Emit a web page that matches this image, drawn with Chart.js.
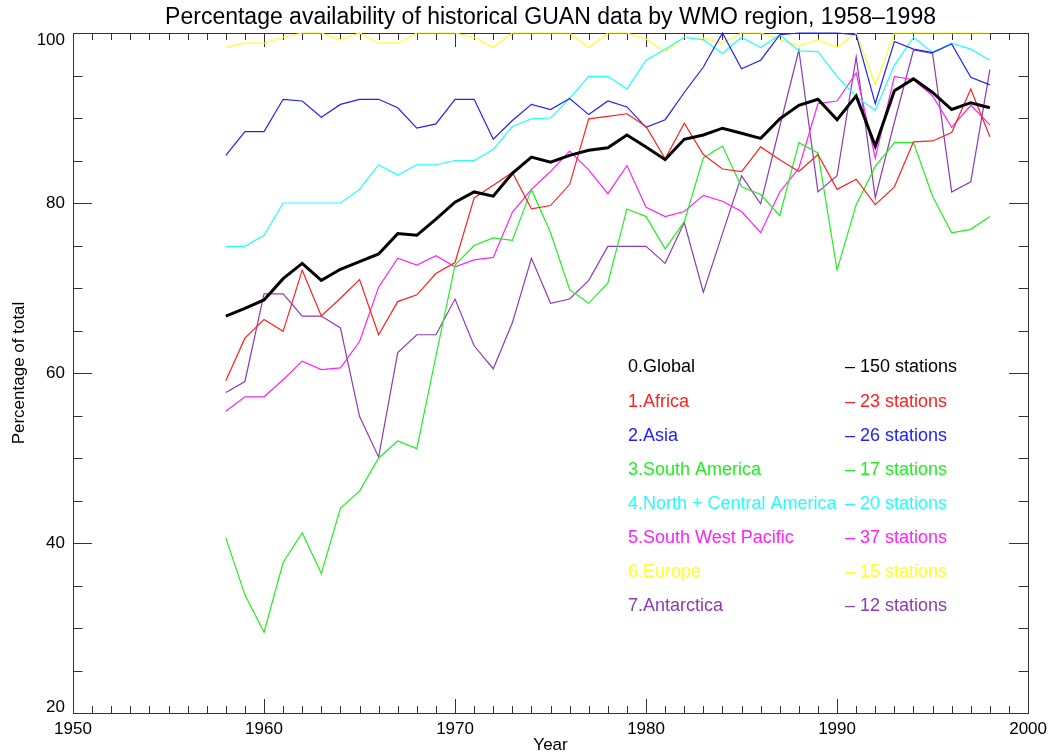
<!DOCTYPE html>
<html>
<head>
<meta charset="utf-8">
<script src="https://cdn.jsdelivr.net/npm/chart.js@4"></script>
<style>
  body { margin: 0; background: #fff; }
  #wrap { width: 1053px; height: 755px; }
</style>
</head>
<body>
<div id="wrap"><canvas id="myChart" width="1053" height="755"></canvas></div>
<script>
// data, 1958-1998
var years = [1958,1959,1960,1961,1962,1963,1964,1965,1966,1967,1968,1969,1970,
  1971,1972,1973,1974,1975,1976,1977,1978,1979,1980,1981,1982,1983,1984,1985,
  1986,1987,1988,1989,1990,1991,1992,1993,1994,1995,1996,1997,1998];

var globalPct = [66.7,67.6,68.6,71.1,72.9,70.9,72.2,73.1,74.0,76.4,76.2,78.1,80.1,
  81.3,80.8,83.5,85.4,84.8,85.6,86.2,86.5,88.0,86.6,85.1,87.5,88.0,88.8,88.2,
  87.6,89.9,91.5,92.2,89.8,92.6,86.7,93.2,94.6,93.0,91.0,91.8,91.2];
var africaPct = [59.1,64.1,66.3,64.9,72.1,66.7,68.8,71.0,64.5,68.4,69.2,71.7,73.0,
  80.6,82.1,83.6,79.3,79.7,82.2,89.9,90.2,90.5,89.0,85.2,89.4,85.7,84.0,83.7,
  86.6,85.1,83.7,85.7,81.6,82.8,79.8,81.9,87.2,87.3,88.3,93.4,87.8];
var asiaPct = [85.6,88.4,88.4,92.2,92.0,90.1,91.6,92.2,92.2,91.2,88.8,89.3,92.2,
  92.2,87.5,89.7,91.6,91.0,92.3,90.4,92.0,91.3,88.9,89.8,93.0,96.0,100,95.8,
  96.8,99.8,100,100,100,99.8,91.7,99.0,98.1,97.7,98.7,94.8,93.9];
var southAmPct = [40.6,33.9,29.5,37.7,41.2,36.4,44.1,46.1,50.0,52.0,51.1,62.0,72.7,
  75.0,75.9,75.6,81.6,76.5,69.8,68.2,70.6,79.3,78.4,74.6,77.8,85.3,86.7,81.9,
  81.0,78.5,87.1,85.9,72.1,79.8,84.3,87.1,87.1,80.8,76.5,76.9,78.4];
var northAmPct = [74.9,74.9,76.2,80.0,80.0,80.0,80.0,81.6,84.5,83.3,84.5,84.5,85.0,
  85.0,86.3,89.0,89.9,90.0,92.3,94.9,94.9,93.4,96.8,98.1,99.5,99.2,97.6,99.5,
  98.3,99.8,97.9,97.8,94.9,92.5,90.9,96.2,99.5,97.7,98.8,98.1,96.8];
var swPacificPct = [55.5,57.2,57.2,59.2,61.4,60.4,60.6,63.7,70.1,73.5,72.7,73.8,72.5,
  73.3,73.6,78.9,81.6,83.7,86.1,83.9,81.1,84.4,79.5,78.4,79.0,80.9,80.2,79.0,
  76.5,81.3,84.1,91.7,92.0,95.3,85.3,94.9,94.5,92.6,88.9,91.5,89.2];
var europePct = [98.3,98.8,98.8,99.5,100,100,99.2,100,98.8,98.8,100,100,100,
  99.5,98.3,100,100,100,100,98.3,100,100,99.3,97.8,99.5,99.4,98.8,100,
  100,99.2,98.5,99.2,98.3,100,93.9,100,100,100,100,100,100];
var antarcticaPct = [57.7,59.0,69.3,69.3,66.7,66.7,65.3,54.9,50.1,62.4,64.5,64.5,68.7,
  63.2,60.5,65.9,73.5,68.2,68.7,70.9,74.9,74.9,74.9,72.9,77.7,69.5,76.4,83.2,
  79.9,89.0,98.0,81.3,83.2,97.2,80.6,89.5,98.0,97.6,81.3,82.5,95.7];

var regionNames = ["0.Global","1.Africa","2.Asia","3.South America",
  "4.North + Central America","5.South West Pacific","6.Europe","7.Antarctica"];
var stationCounts = [150,23,26,17,20,37,15,12];
var regionColors = ["#000000","#ff2020","#2020ff","#20f020","#20ffff","#ff20ff","#ffff20","#8c3cb4"];
var seriesList = [globalPct,africaPct,asiaPct,southAmPct,northAmPct,swPacificPct,europePct,antarcticaPct];

var xTicks = [1950,1960,1970,1980,1990,2000];
var yTicks = [20,40,60,80,100];

var FONT = "Liberation Sans, Arial, Helvetica, sans-serif";

function toPoints(vals) {
  return years.map(function (yr, i) { return {x: yr, y: vals[i]}; });
}

var datasets = seriesList.map(function (vals, i) {
  return {
    label: regionNames[i],
    data: toPoints(vals),
    borderColor: regionColors[i],
    borderWidth: i == 0 ? 3 : 1.2,
    pointRadius: 0,
    tension: 0,
    fill: false,
    clip: 5
  };
});

// frame with inward ticks on all four sides, like the IDL plot
var framePlugin = {
  id: "frame",
  beforeDatasetsDraw: function (chart) {
    var ctx = chart.ctx, a = chart.chartArea;
    var xs = chart.scales.x, ys = chart.scales.y;
    ctx.save();
    ctx.strokeStyle = "#333";
    ctx.lineWidth = 1;
    ctx.strokeRect(Math.round(a.left) + 0.5, Math.round(a.top) + 0.5,
      Math.round(a.right - a.left), Math.round(a.bottom - a.top));
    ctx.beginPath();
    for (var v = xTicks[0]; v <= xTicks[xTicks.length - 1]; v++) {
      var px = Math.round(xs.getPixelForValue(v)) + 0.5;
      var len = v % 10 == 0 ? 14 : 7;
      ctx.moveTo(px, a.bottom); ctx.lineTo(px, a.bottom - len);
      ctx.moveTo(px, a.top); ctx.lineTo(px, a.top + len);
    }
    for (var w = yTicks[0]; w <= yTicks[yTicks.length - 1]; w += 5) {
      var py = Math.round(ys.getPixelForValue(w)) + 0.5;
      var l2 = w % 20 == 0 ? 19 : 9.5;
      ctx.moveTo(a.left, py); ctx.lineTo(a.left + l2, py);
      ctx.moveTo(a.right, py); ctx.lineTo(a.right - l2, py);
    }
    ctx.stroke();

    // y labels: the end ones are kept inside the frame
    ctx.fillStyle = "#000";
    ctx.font = "17px " + FONT;
    ctx.textAlign = "right";
    ctx.textBaseline = "middle";
    yTicks.forEach(function (t, k) {
      var py = ys.getPixelForValue(t);
      if (k == yTicks.length - 1) py += 7;
      if (k == 0) py -= 6;
      ctx.fillText(String(t), a.left - 8, py);
    });
    ctx.restore();
  },
  afterDraw: function (chart) {
    var ctx = chart.ctx, a = chart.chartArea;
    ctx.save();
    ctx.fillStyle = "#000";
    ctx.textAlign = "center";
    ctx.textBaseline = "middle";
    ctx.font = "23px " + FONT;
    ctx.fillText("Percentage availability of historical GUAN data by WMO region, 1958\u20131998",
      (a.left + a.right) / 2, 18);
    ctx.font = "17px " + FONT;
    ctx.fillText("Year", (a.left + a.right) / 2, 745);
    ctx.translate(19, (a.top + a.bottom) / 2);
    ctx.rotate(-Math.PI / 2);
    ctx.fillText("Percentage of total", 0, 0);
    ctx.restore();

    // legend block
    ctx.save();
    ctx.font = "18px " + FONT;
    ctx.textBaseline = "middle";
    ctx.textAlign = "left";
    for (var i = 0; i < regionNames.length; i++) {
      var y = 367.5 + i * 34.05;
      ctx.fillStyle = regionColors[i];
      ctx.fillText(regionNames[i], 628, y);
      ctx.fillText("\u2013 " + stationCounts[i] + " stations", 845, y);
    }
    ctx.restore();
  }
};

new Chart("myChart", {
  type: "line",
  data: { datasets: datasets },
  options: {
    responsive: false,
    animation: false,
    layout: { padding: { top: 33, right: 23, left: 0, bottom: 0 } },
    plugins: {
      legend: { display: false },
      title: { display: false },
      tooltip: { enabled: false }
    },
    scales: {
      x: {
        type: "linear",
        min: 1950,
        max: 2000,
        grid: { display: false, drawTicks: false },
        border: { display: false },
        afterFit: function (s) { s.height = 42; },
        ticks: {
          stepSize: 10,
          padding: 6,
          color: "#000",
          maxRotation: 0,
          font: { family: FONT, size: 17 },
          callback: function (v) { return String(v); }
        }
      },
      y: {
        min: 20,
        max: 100,
        grid: { display: false, drawTicks: false },
        border: { display: false },
        afterFit: function (s) { s.width = 73; },
        ticks: { display: false, stepSize: 20 }
      }
    }
  },
  plugins: [framePlugin]
});
</script>
</body>
</html>
